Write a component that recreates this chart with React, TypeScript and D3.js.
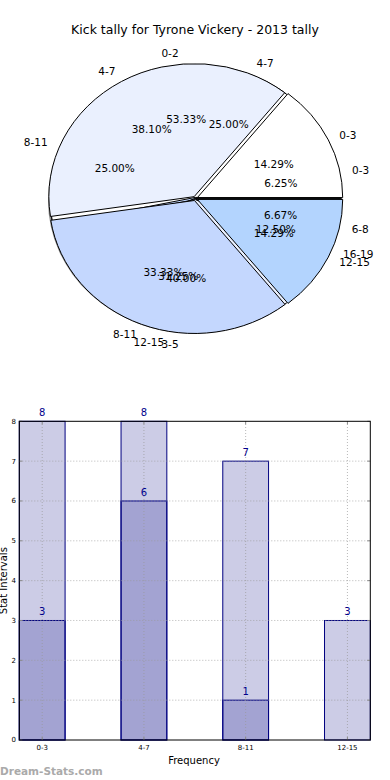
import React from "react";
import * as d3 from "d3";

const title = "Kick tally for Tyrone Vickery - 2013 tally";

// Pie layers (drawn bottom to top)
const pieALabels = ["0-3", "4-7", "8-11", "12-15", "16-19"];
const pieAValues = [1, 4, 4, 5, 2];
const pieBLabels = ["0-2", "3-5", "6-8"];
const pieBValues = [8, 6, 1];
const pieCLabels = ["0-3", "4-7", "8-11", "12-15"];
const pieCValues = [3, 8, 7, 3];

const sliceColors = ["#ffffff", "#eaf0fe", "#c4d7fe", "#b3d4fe", "#a6cbfe"];

// Bar chart
const barCategories = ["0-3", "4-7", "8-11", "12-15"];
const barSeries1 = [8, 8, 7, 3];
const barSeries2 = [3, 6, 1, 0];
const yTicks = [0, 1, 2, 3, 4, 5, 6, 7, 8];

const FONT = "DejaVu Sans, Verdana, sans-serif";

const cx = 195.3, cy = 198.5, rx = 145.3, ry = 133;
const R = 100;

function PieLayer({ labels, values, explode }: { labels: string[]; values: number[]; explode: number }) {
  const total = d3.sum(values);
  let acc = 0;
  const arc = d3.arc<any>().innerRadius(0).outerRadius(R);
  const slices = values.map((v, i) => {
    const t0 = (acc / total) * 2 * Math.PI;
    acc += v;
    const t1 = (acc / total) * 2 * Math.PI;
    return { i, v, t0, t1, mid: (t0 + t1) / 2, label: labels[i] };
  });
  return (
    <g>
      {slices.map((s) => {
        const dx = explode * rx * Math.cos(s.mid);
        const dy = -explode * ry * Math.sin(s.mid);
        const d = arc({ startAngle: Math.PI / 2 - s.t1, endAngle: Math.PI / 2 - s.t0 }) as string;
        return (
          <g key={s.i} transform={`translate(${cx + dx},${cy + dy}) scale(${rx / R},${ry / R})`}>
            <path d={d} fill={sliceColors[s.i % sliceColors.length]} stroke="#000" strokeWidth={1} vectorEffect="non-scaling-stroke" />
          </g>
        );
      })}
    </g>
  );
}

function PieTexts({ labels, values }: { labels: string[]; values: number[] }) {
  const total = d3.sum(values);
  let acc = 0;
  return (
    <g fontFamily={FONT} fontSize={10.5} fill="#000">
      {values.map((v, i) => {
        const t0 = (acc / total) * 2 * Math.PI;
        acc += v;
        const t1 = (acc / total) * 2 * Math.PI;
        const m = (t0 + t1) / 2;
        const c = Math.cos(m), s = Math.sin(m);
        const lx = cx + 1.1 * rx * c, ly = cy - 1.1 * ry * s;
        const px = cx + 0.6 * rx * c, py = cy - 0.6 * ry * s;
        const pct = ((v / total) * 100).toFixed(2) + "%";
        return (
          <g key={i}>
            <text x={lx} y={ly} dy="0.35em" textAnchor={c > 0 ? "start" : "end"}>{labels[i]}</text>
            <text x={px} y={py} dy="0.35em" textAnchor="middle">{pct}</text>
          </g>
        );
      })}
    </g>
  );
}

export default function App() {
  // Bar chart scales
  const x = d3.scaleLinear().domain([-0.225, 3.225]).range([19.3, 370.3]);
  const y = d3.scaleLinear().domain([0, 8]).range([740, 421.3]);
  const bw = x(0.225) - x(-0.225);

  return (
    <svg width={390} height={780} style={{ position: "absolute", left: 0, top: 0, background: "#fff" }}>
      <rect x={0} y={0} width={390} height={780} fill="#fff" />
      <text x={195} y={34} textAnchor="middle" fontFamily={FONT} fontSize={12.5} fill="#000">{title}</text>

      {/* shadow */}
      <ellipse cx={cx - 2} cy={cy + 2} rx={rx} ry={ry} fill="#555" opacity={0.65} />
      <PieLayer labels={pieALabels} values={pieAValues} explode={0.0} />
      <PieLayer labels={pieBLabels} values={pieBValues} explode={0.008} />
      <PieLayer labels={pieCLabels} values={pieCValues} explode={0.016} />
      <PieTexts labels={pieALabels} values={pieAValues} />
      <PieTexts labels={pieBLabels} values={pieBValues} />
      <PieTexts labels={pieCLabels} values={pieCValues} />

      {/* Bar chart */}
      <g>
        {barSeries1.map((v, i) => (
          <rect key={"a" + i} x={x(i) - bw / 2} y={y(v)} width={bw} height={y(0) - y(v)} fill="#000080" fillOpacity={0.2} stroke="#000080" strokeWidth={1} />
        ))}
        {barSeries2.map((v, i) =>
          v > 0 ? (
            <rect key={"b" + i} x={x(i) - bw / 2} y={y(v)} width={bw} height={y(0) - y(v)} fill="#000080" fillOpacity={0.2} stroke="#000080" strokeWidth={1} />
          ) : null
        )}
        {/* grid */}
        {yTicks.slice(1, -1).map((t) => (
          <line key={"gy" + t} x1={x(-0.225)} x2={x(3.225)} y1={y(t)} y2={y(t)} stroke="#999" strokeOpacity={0.7} strokeDasharray="1,2" />
        ))}
        {barCategories.map((c, i) => (
          <line key={"gx" + i} x1={x(i)} x2={x(i)} y1={y(0)} y2={y(8)} stroke="#999" strokeOpacity={0.7} strokeDasharray="1,2" />
        ))}
        {/* ticks */}
        {yTicks.map((t) => (
          <g key={"ty" + t}>
            <line x1={x(-0.225)} x2={x(-0.225) + 3} y1={y(t)} y2={y(t)} stroke="#888" />
            <line x1={x(3.225)} x2={x(3.225) - 3} y1={y(t)} y2={y(t)} stroke="#888" />
            <text x={16} y={y(t)} dy="0.35em" textAnchor="end" fontFamily={FONT} fontSize={7} fill="#000">{t}</text>
          </g>
        ))}
        {barCategories.map((c, i) => (
          <g key={"tx" + i}>
            <line x1={x(i)} x2={x(i)} y1={y(0)} y2={y(0) - 3} stroke="#888" />
            <line x1={x(i)} x2={x(i)} y1={y(8)} y2={y(8) + 3} stroke="#888" />
            <text x={x(i)} y={y(0) + 10} textAnchor="middle" fontFamily={FONT} fontSize={7} fill="#000">{c}</text>
          </g>
        ))}
        <rect x={x(-0.225)} y={y(8)} width={x(3.225) - x(-0.225)} height={y(0) - y(8)} fill="none" stroke="#000" strokeWidth={1} />
        {/* value labels */}
        {barSeries1.map((v, i) => (
          <text key={"va" + i} x={x(i)} y={y(v) - 5} textAnchor="middle" fontFamily={FONT} fontSize={10} fill="#00008b">{v}</text>
        ))}
        {barSeries2.map((v, i) =>
          v > 0 ? (
            <text key={"vb" + i} x={x(i)} y={y(v) - 5} textAnchor="middle" fontFamily={FONT} fontSize={10} fill="#00008b">{v}</text>
          ) : null
        )}
        <text x={194} y={764} textAnchor="middle" fontFamily={FONT} fontSize={10} fill="#000">Frequency</text>
        <text transform={`translate(7,${y(4)}) rotate(-90)`} textAnchor="middle" fontFamily={FONT} fontSize={10} fill="#000">Stat Intervals</text>
      </g>
      <text x={0} y={775} fontFamily={FONT} fontSize={10.5} fontWeight="bold" fill="#aaa">Dream-Stats.com</text>
    </svg>
  );
}
